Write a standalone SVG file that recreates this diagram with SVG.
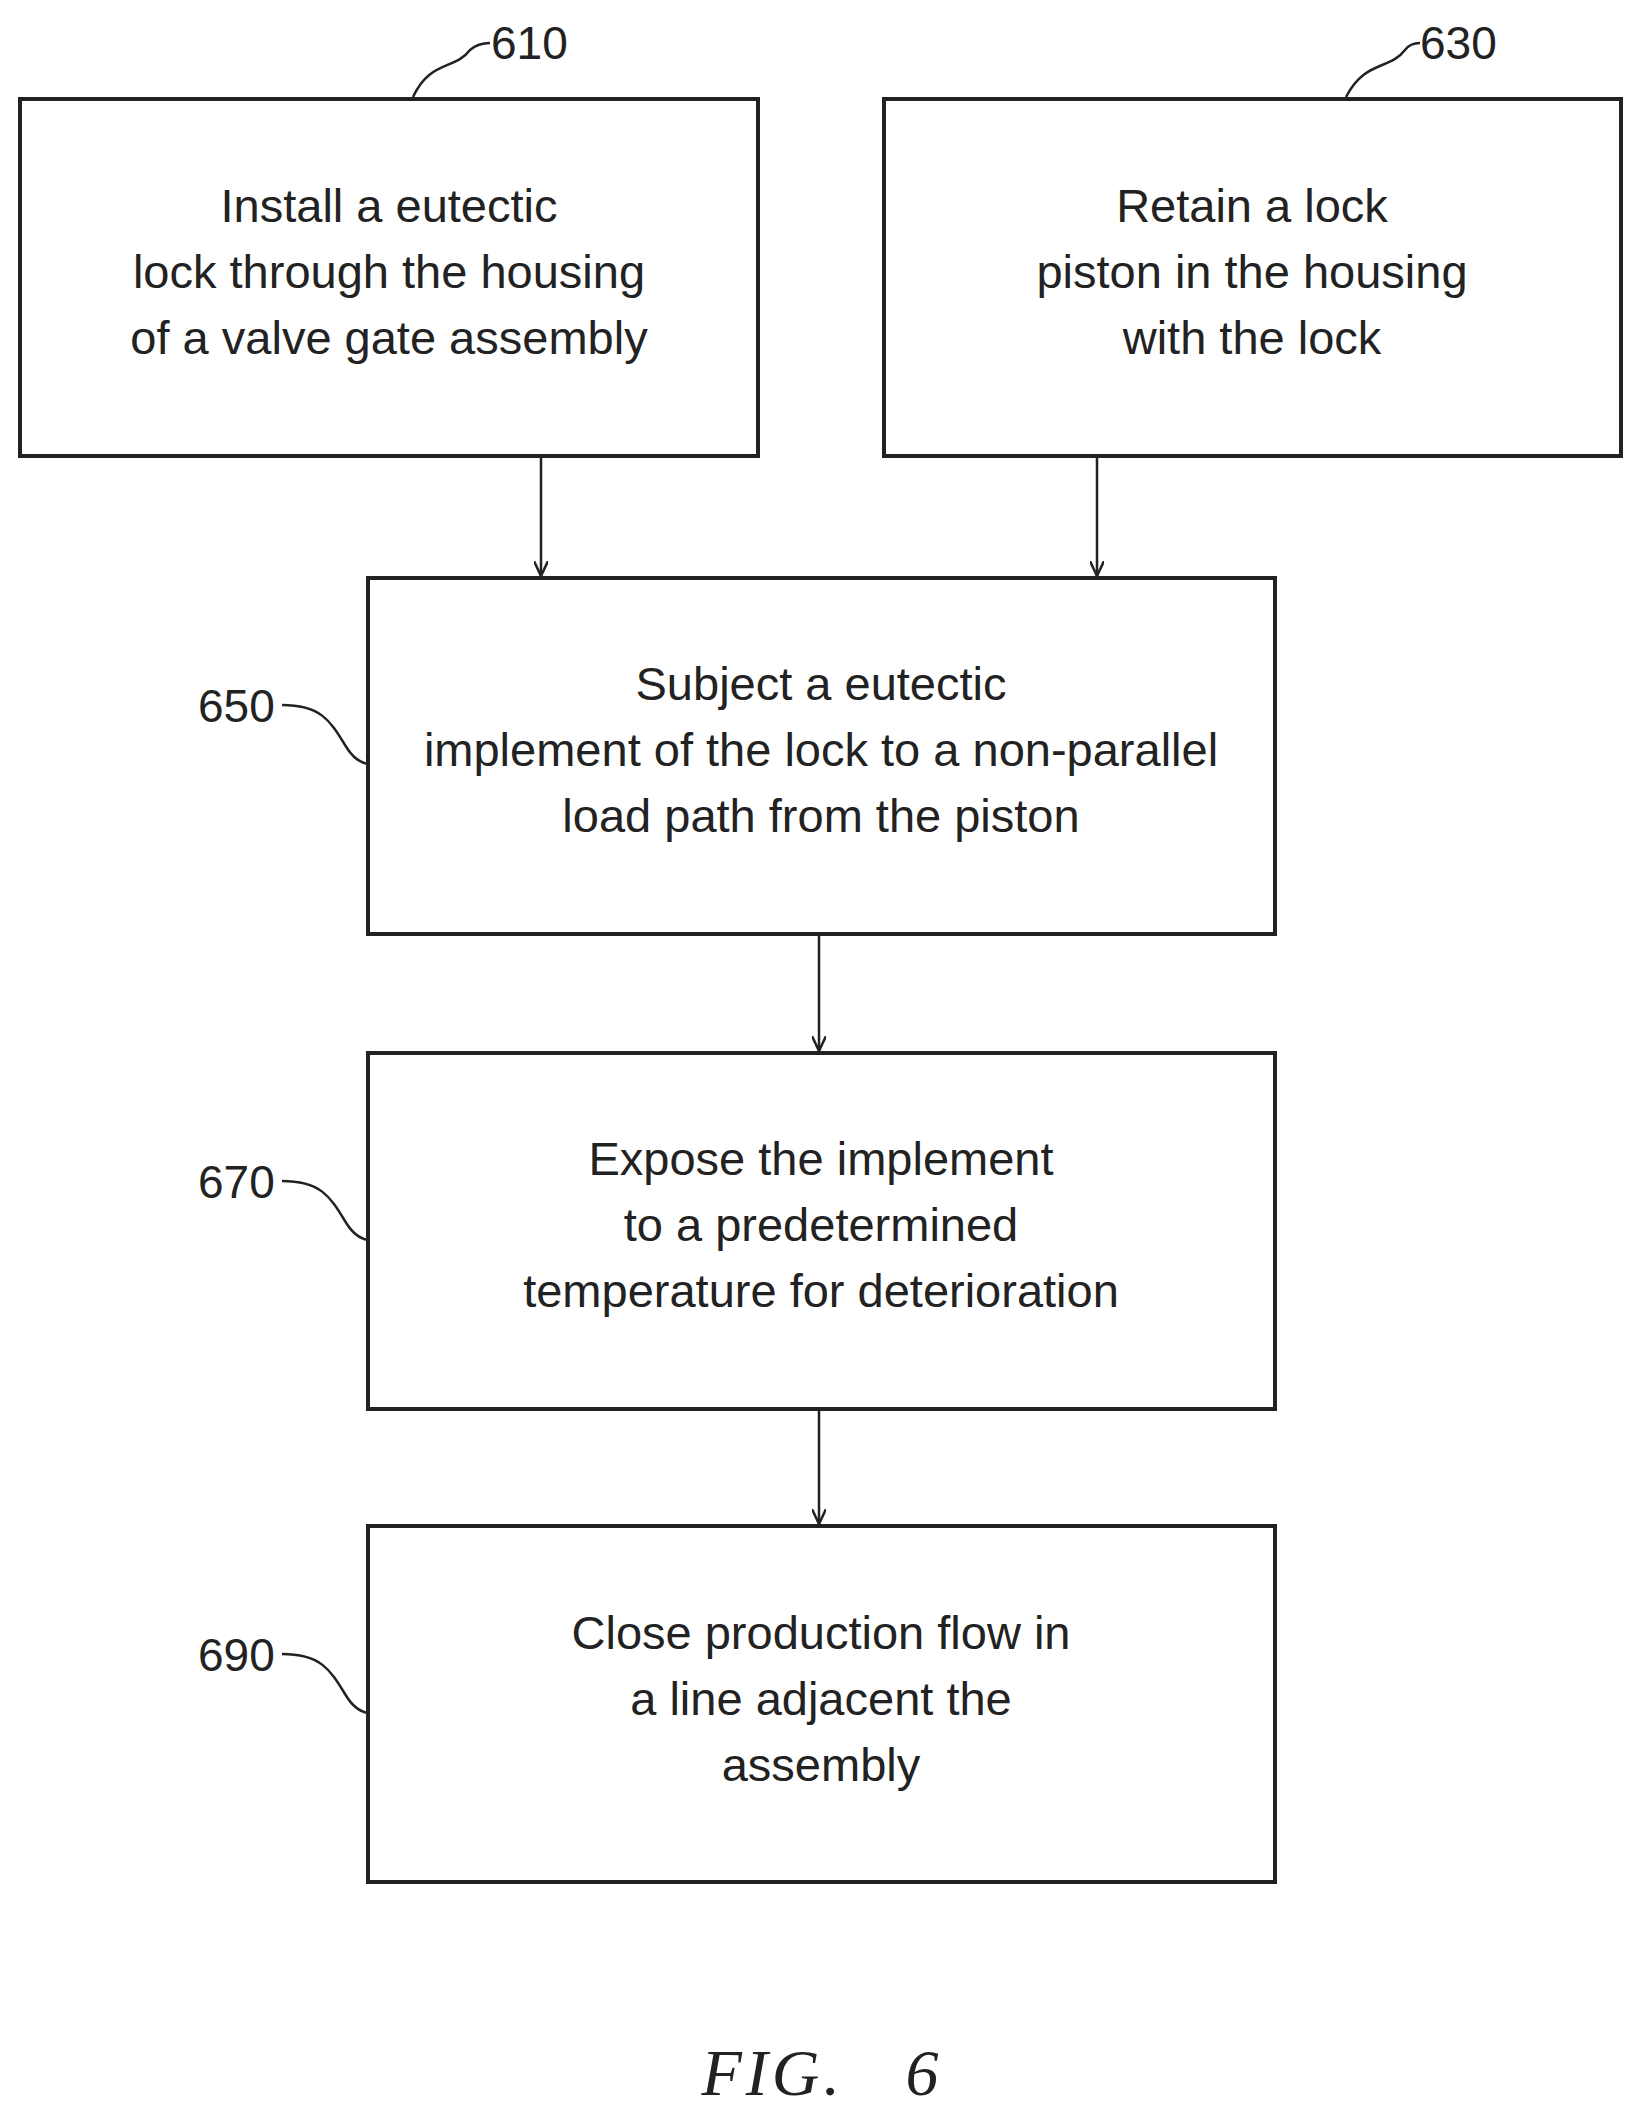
<svg xmlns="http://www.w3.org/2000/svg" width="1644" height="2123" viewBox="0 0 1644 2123">
<style>
.box{fill:#fff;stroke:#222;stroke-width:4}
.t{font-family:"Liberation Sans",Arial,sans-serif;font-size:47px;fill:#222;text-anchor:middle}
.lbl{font-family:"Liberation Sans",Arial,sans-serif;font-size:46px;fill:#222}
.c{fill:none;stroke:#222;stroke-width:2.5}
</style>
<defs><marker id="a" markerWidth="16" markerHeight="14" refX="15" refY="7" orient="auto" markerUnits="userSpaceOnUse"><path d="M0,0 L15,7 L0,14" fill="none" stroke="#222" stroke-width="2.5"/></marker></defs>
<rect width="1644" height="2123" fill="#fff"/>
<g id="n610"><rect class="box" x="20" y="99" width="738" height="357"/>
<text class="t" x="389" y="222">Install a eutectic</text><text class="t" x="389" y="288">lock through the housing</text><text class="t" x="389" y="354">of a valve gate assembly</text>
<text class="lbl" x="491" y="59">610</text><path class="c" d="M413,97 C430,60 455,70 470,50 Q478,43 490,43"/></g>
<g id="n630"><rect class="box" x="884" y="99" width="737" height="357"/>
<text class="t" x="1252" y="222">Retain a lock</text><text class="t" x="1252" y="288">piston in the housing</text><text class="t" x="1252" y="354">with the lock</text>
<text class="lbl" x="1420" y="59">630</text><path class="c" d="M1346,97 C1365,60 1390,70 1405,50 Q1410,43 1420,43"/></g>
<g id="n650"><rect class="box" x="368" y="578" width="907" height="356"/>
<text class="t" x="821" y="700">Subject a eutectic</text><text class="t" x="821" y="766">implement of the lock to a non-parallel</text><text class="t" x="821" y="832">load path from the piston</text>
<text class="lbl" x="198" y="722">650</text><path class="c" d="M282,705 C320,705 330,720 345,745 Q355,762 368,764"/></g>
<g id="n670"><rect class="box" x="368" y="1053" width="907" height="356"/>
<text class="t" x="821" y="1175">Expose the implement</text><text class="t" x="821" y="1241">to a predetermined</text><text class="t" x="821" y="1307">temperature for deterioration</text>
<text class="lbl" x="198" y="1198">670</text><path class="c" d="M282,1181 C320,1181 330,1196 345,1221 Q355,1238 368,1240"/></g>
<g id="n690"><rect class="box" x="368" y="1526" width="907" height="356"/>
<text class="t" x="821" y="1649">Close production flow in</text><text class="t" x="821" y="1715">a line adjacent the</text><text class="t" x="821" y="1781">assembly</text>
<text class="lbl" x="198" y="1671">690</text><path class="c" d="M282,1654 C320,1654 330,1669 345,1694 Q355,1711 368,1713"/></g>
<g id="connectors">
<path class="c" d="M541,456 V576" marker-end="url(#a)"/>
<path class="c" d="M1097,456 V576" marker-end="url(#a)"/>
<path class="c" d="M819,934 V1051" marker-end="url(#a)"/>
<path class="c" d="M819,1409 V1524" marker-end="url(#a)"/>
</g>
<text x="822" y="2095" xml:space="preserve" style="font-family:'Liberation Serif',serif;font-style:italic;font-size:66px;fill:#222;text-anchor:middle;letter-spacing:4px">FIG.   6</text>
</svg>
